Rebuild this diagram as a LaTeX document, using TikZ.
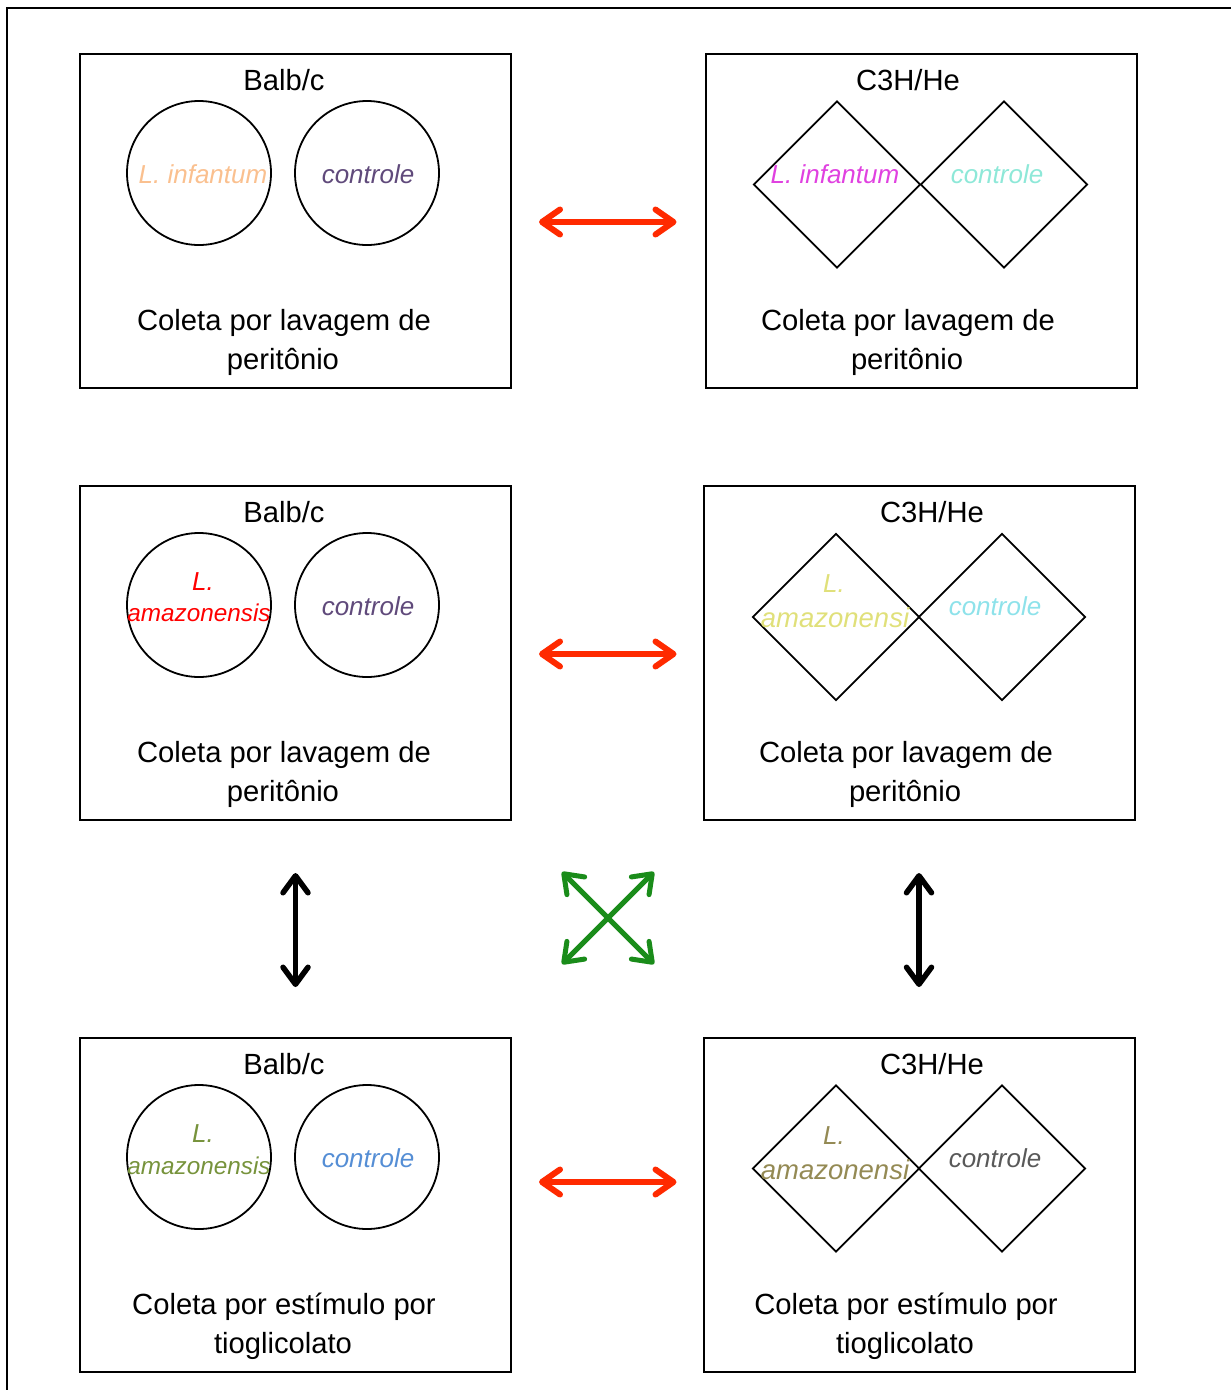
\documentclass[tikz,border=0pt]{standalone}
\usepackage{fontspec}
\setmainfont{Liberation Sans}
\usetikzlibrary{arrows.meta,shapes.geometric}
\definecolor{cOrange}{HTML}{FAC08F}
\definecolor{cPurple}{HTML}{604A7B}
\definecolor{cMagenta}{HTML}{E041E0}
\definecolor{cAqua}{HTML}{8EE8D8}
\definecolor{cRed}{HTML}{FF0000}
\definecolor{cYellow}{HTML}{E0E07A}
\definecolor{cCyan}{HTML}{8EE2EA}
\definecolor{cOlive}{HTML}{77933C}
\definecolor{cBlue}{HTML}{558ED5}
\definecolor{cTan}{HTML}{948A54}
\definecolor{cGray}{HTML}{595959}
\definecolor{cArrRed}{HTML}{FF2A00}
\definecolor{cArrGreen}{HTML}{1A8C1A}
\tikzset{
  box/.style={draw, line width=2pt, rectangle, minimum width=431pt, minimum height=334pt, inner sep=0pt},
  circ/.style={draw, line width=1.8pt, circle, minimum size=144pt, inner sep=0pt},
  diam/.style={draw, line width=1.8pt, diamond, minimum width=167pt, minimum height=167pt, inner sep=0pt},
  bigtxt/.style={anchor=base, inner sep=0pt, font=\fontsize{29.2}{39}\selectfont},
  lbl/.style={anchor=base, inner sep=0pt, font=\fontsize{26}{33}\selectfont\itshape},
  lblsm/.style={anchor=base, inner sep=0pt, font=\fontsize{24.3}{33}\selectfont\itshape},
  lblbig/.style={anchor=base, inner sep=0pt, font=\fontsize{27.5}{33}\selectfont\itshape},
  redarr/.style={draw=cArrRed, line width=6pt, {Straight Barb[length=18pt,width=25pt,round]}-{Straight Barb[length=18pt,width=25pt,round]}},
  blackarr/.style={draw=black, line width=5.5pt, {Straight Barb[length=17pt,width=25pt,round]}-{Straight Barb[length=17pt,width=25pt,round]}},
  greenarr/.style={draw=cArrGreen, line width=5pt, {Straight Barb[length=17pt,width=25pt,round]}-{Straight Barb[length=17pt,width=25pt,round]}},
}
\begin{document}
\begin{tikzpicture}[x=1pt,y=-1pt]
\useasboundingbox (0,0) rectangle (1231,1390);
% outer frame
\coordinate (frTR) at (1240,8);
\coordinate (frTL) at (7,8);
\coordinate (frBL) at (7,1400);
\draw[line width=2pt] (frTR) -- (frTL) -- (frBL);

% boxes
\node[box] (b1l) at (295.5,221) {};
\node[box] (b1r) at (921,220.5) {};
\node[box] (b2l) at (295.5,653) {};
\node[box] (b2r) at (919,653) {};
\node[box] (b3l) at (295.5,1205) {};
\node[box] (b3r) at (919,1205) {};

% titles
\node[bigtxt] (t1l) at (284,90) {Balb/c};
\node[bigtxt] (t1r) at (908,90) {C3H/He};
\node[bigtxt] (t2l) at (284,522) {Balb/c};
\node[bigtxt] (t2r) at (932,522) {C3H/He};
\node[bigtxt] (t3l) at (284,1074) {Balb/c};
\node[bigtxt] (t3r) at (932,1074) {C3H/He};

% bottom texts
\node[bigtxt] (d1la) at (284,330) {Coleta por lavagem de};
\node[bigtxt] (d1lb) at (283,369) {peritônio};
\node[bigtxt] (d1ra) at (908,330) {Coleta por lavagem de};
\node[bigtxt] (d1rb) at (907,369) {peritônio};
\node[bigtxt] (d2la) at (284,762) {Coleta por lavagem de};
\node[bigtxt] (d2lb) at (283,801) {peritônio};
\node[bigtxt] (d2ra) at (906,762) {Coleta por lavagem de};
\node[bigtxt] (d2rb) at (905,801) {peritônio};
\node[bigtxt] (d3la) at (284,1314) {Coleta por estímulo por};
\node[bigtxt] (d3lb) at (283,1353) {tioglicolato};
\node[bigtxt] (d3ra) at (906,1314) {Coleta por estímulo por};
\node[bigtxt] (d3rb) at (905,1353) {tioglicolato};

% circles
\node[circ] (c1a) at (199,173) {};
\node[circ] (c1b) at (367,173) {};
\node[circ] (c2a) at (199,605) {};
\node[circ] (c2b) at (367,605) {};
\node[circ] (c3a) at (199,1157) {};
\node[circ] (c3b) at (367,1157) {};

% diamonds
\node[diam] (q1a) at (837,184.5) {};
\node[diam] (q1b) at (1004,184.5) {};
\node[diam] (q2a) at (836,617) {};
\node[diam] (q2b) at (1002,617) {};
\node[diam] (q3a) at (836,1168.5) {};
\node[diam] (q3b) at (1002,1168.5) {};

% labels row 1
\node[lbl, text=cOrange] (l1a) at (203,183) {L. infantum};
\node[lbl, text=cPurple] (l1b) at (368,183) {controle};
\node[lbl, text=cMagenta] (l1c) at (835,183) {L. infantum};
\node[lbl, text=cAqua] (l1d) at (997,183) {controle};
% labels row 2
\node[lbl, text=cRed] (l2a1) at (203,590) {L.};
\node[lblsm, text=cRed] (l2a2) at (199,621) {amazonensis};
\node[lbl, text=cPurple] (l2b) at (368,615) {controle};
\node[lbl, text=cYellow] (l2c1) at (834,592) {L.};
\node[lblbig, text=cYellow] (l2c2) at (835,627) {amazonensi};
\node[lbl, text=cCyan] (l2d) at (995,615) {controle};
% labels row 3
\node[lbl, text=cOlive] (l3a1) at (203,1142) {L.};
\node[lblsm, text=cOlive] (l3a2) at (199,1174) {amazonensis};
\node[lbl, text=cBlue] (l3b) at (368,1167) {controle};
\node[lbl, text=cTan] (l3c1) at (834,1144) {L.};
\node[lblbig, text=cTan] (l3c2) at (835,1179) {amazonensi};
\node[lbl, text=cGray] (l3d) at (995,1167) {controle};

% red arrows
\draw[redarr, shorten <=27pt, shorten >=28pt] ([yshift=-1pt]b1l.east) -- ([yshift=-1pt]b1l.east -| b1r.west);
\draw[redarr, shorten <=27pt, shorten >=26pt] ([yshift=-1pt]b2l.east) -- ([yshift=-1pt]b2r.west);
\draw[redarr, shorten <=27pt, shorten >=26pt] ([yshift=23pt]b3l.east) -- ([yshift=23pt]b3r.west);

% black arrows
\draw[blackarr, shorten <=52pt, shorten >=50pt] (b2l.south) -- (b3l.north);
\draw[blackarr, shorten <=52pt, shorten >=50pt] (b2r.south) -- (b3r.north);

% green X
\coordinate (g1) at (562,872);
\coordinate (g2) at (654,964);
\coordinate (g3) at (654,872);
\coordinate (g4) at (562,964);
\draw[greenarr] (g1) -- (g2);
\draw[greenarr] (g3) -- (g4);
\end{tikzpicture}
\end{document}
